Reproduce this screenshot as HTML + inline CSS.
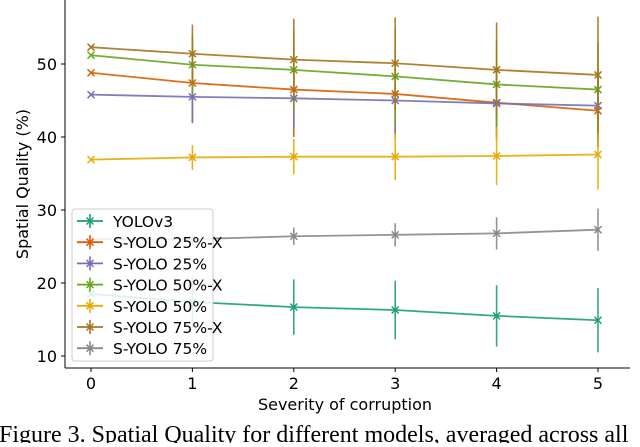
<!DOCTYPE html>
<html><head><meta charset="utf-8">
<style>
body{margin:0;background:#fff;width:640px;height:443px;overflow:hidden;font-family:"DejaVu Sans","Liberation Sans",sans-serif;}
svg text{font-family:"DejaVu Sans","Liberation Sans",sans-serif;}
</style></head><body>
<svg id="chart" width="640" height="443" xmlns="http://www.w3.org/2000/svg">
<g id="plot"></g>
<text x="345" y="410" font-size="16" text-anchor="middle">Severity of corruption</text>
<text x="0" y="0" font-size="16" text-anchor="middle" transform="translate(28,184) rotate(-90)">Spatial Quality (%)</text>
<text x="-1" y="442" font-size="24" style="font-family:'Liberation Serif',serif">Figure 3. Spatial Quality for different models, averaged across all</text>
</svg>
<script>
const severities=[0,1,2,3,4,5];
const yTicks=[10,20,30,40,50];
const seriesNames=["YOLOv3","S-YOLO 25%-X","S-YOLO 25%","S-YOLO 50%-X","S-YOLO 50%","S-YOLO 75%-X","S-YOLO 75%"];
const seriesColors=["#1b9e77","#d95f02","#7570b3","#66a61e","#e6ab02","#a6761d","#888888"];
const yolov3=[18.5,17.4,16.7,16.3,15.5,14.9];
const yolov3Err=[0,3.5,3.8,4.0,4.2,4.4];
const s25x=[48.8,47.4,46.5,45.9,44.7,43.6];
const s25xErr=[0,5.5,6.5,6,5,5];
const s25=[45.8,45.5,45.3,45.0,44.6,44.3];
const s25Err=[0,3.5,4,4.5,4.5,5];
const s50x=[51.2,49.9,49.2,48.3,47.2,46.5];
const s50xErr=[0,4,5.5,6.5,6,6.5];
const s50=[36.9,37.2,37.3,37.3,37.4,37.6];
const s50Err=[0,1.7,2.4,3.2,4.0,4.8];
const s75x=[52.3,51.4,50.6,50.1,49.2,48.5];
const s75xErr=[0,4,5.6,6.3,6.5,8];
const s75=[26.0,26.0,26.4,26.6,26.8,27.3];
const s75Err=[0,0.8,1.2,1.6,2.2,2.9];
const allVals=[yolov3,s25x,s25,s50x,s50,s75x,s75];
const allErr=[yolov3Err,s25xErr,s25Err,s50xErr,s50Err,s75xErr,s75Err];
const X=v=>91+v*(598-91)/5;
const Y=v=>356-(v-10)*7.3;
const NS="http://www.w3.org/2000/svg";
const g=document.getElementById('plot');
function mk(t,a){const e=document.createElementNS(NS,t);for(const k in a)e.setAttribute(k,a[k]);g.appendChild(e);return e;}
let ax=mk('line',{x1:65,y1:0,x2:65,y2:368,stroke:'#000','stroke-width':1});


ax=mk('line',{x1:65,y1:368,x2:630,y2:368,stroke:'#000','stroke-width':1});


yTicks.forEach(t=>{
 mk('line',{x1:61,y1:Y(t),x2:65,y2:Y(t),stroke:'#000'});
 const tx=mk('text',{x:57,y:Y(t)+6,'font-size':16,'text-anchor':'end'});tx.textContent=t;
 
 
});
severities.forEach(s=>{
 mk('line',{x1:X(s),y1:368,x2:X(s),y2:372,stroke:'#000'});
 const tx=mk('text',{x:X(s),y:389,'font-size':16,'text-anchor':'middle'});tx.textContent=s;
 
 
});
function marker(x,y,c){
 mk('path',{d:`M${x-3.5},${y-3.5}L${x+3.5},${y+3.5}M${x-3.5},${y+3.5}L${x+3.5},${y-3.5}`,stroke:c,'stroke-width':1.5,fill:'none'});
}
allVals.forEach((vals,i)=>{
 const c=seriesColors[i];
 const pts=vals.map((v,j)=>X(severities[j])+','+Y(v)).join(' ');
 const pl=mk('polyline',{points:pts,fill:'none',stroke:c,'stroke-width':1.8,opacity:0.9});
 
 
 vals.forEach((v,j)=>{
  const e=allErr[i][j];
  if(e>0){const b=mk('line',{x1:X(severities[j]),x2:X(severities[j]),y1:Y(v-e),y2:Y(v+e),stroke:c,'stroke-width':1.6,opacity:0.9});
  
  }
  marker(X(severities[j]),Y(v),c);
 });
});
const lg=mk('rect',{x:72,y:209,width:141,height:152,rx:3,fill:'#fff','fill-opacity':0.85,stroke:'#ccc'});


seriesNames.forEach((n,i)=>{
 const y=221+i*21.2,c=seriesColors[i];
 mk('line',{x1:77,x2:103,y1:y,y2:y,stroke:c,'stroke-width':1.8});
 mk('line',{x1:90,x2:90,y1:y-7,y2:y+7,stroke:c,'stroke-width':1.6});
 marker(90,y,c);
 const t=mk('text',{x:113,y:y+6,'font-size':15.5});t.textContent=n;
 
 
});
</script>
</body></html>
